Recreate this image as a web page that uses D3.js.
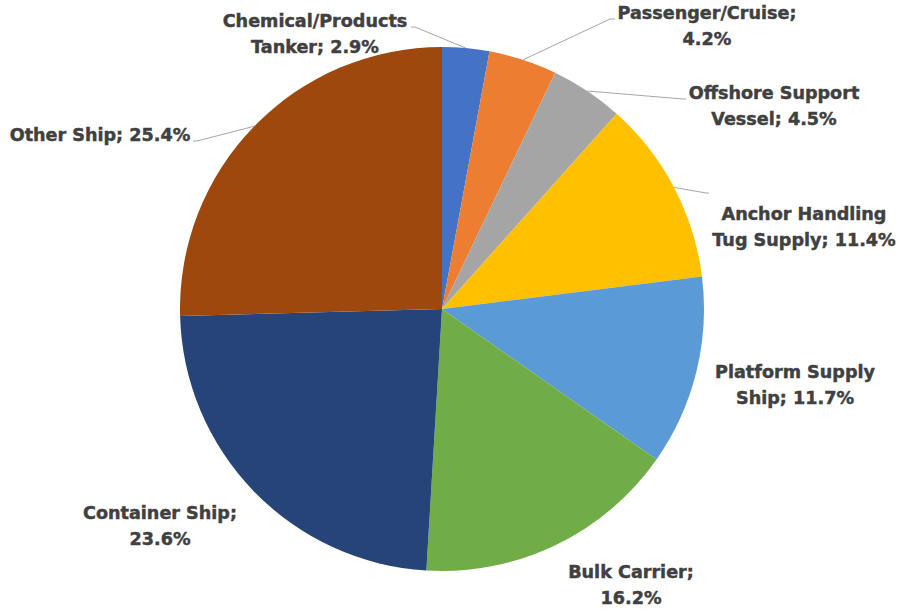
<!DOCTYPE html>
<html>
<head>
<meta charset="utf-8">
<script src="https://cdn.jsdelivr.net/npm/d3@7"></script>
<style>
  html, body { margin: 0; padding: 0; background: #fff; }
  svg { display: block; }
  .lbl { font-family: "DejaVu Sans", sans-serif; font-weight: bold; font-size: 17.6px; fill: #404040;
         stroke: #404040; stroke-width: 0.45px; }
</style>
</head>
<body>
<svg id="chart" width="900" height="610"></svg>
<script>
// Ship types and their share of the total (%)
const categories = [
  "Chemical/Products Tanker",
  "Passenger/Cruise",
  "Offshore Support Vessel",
  "Anchor Handling Tug Supply",
  "Platform Supply Ship",
  "Bulk Carrier",
  "Container Ship",
  "Other Ship"
];
const shares = [2.9, 4.2, 4.5, 11.4, 11.7, 16.2, 23.6, 25.4];
// Label text split into lines (the value line is appended below)
const labelLines = [
  ["Chemical/Products", "Tanker;"],
  ["Passenger/Cruise;", ""],
  ["Offshore Support", "Vessel;"],
  ["Anchor Handling", "Tug Supply;"],
  ["Platform Supply", "Ship;"],
  ["Bulk Carrier;", ""],
  ["Container Ship;", ""],
  ["Other Ship;"]
];

const colors = ["#4472C4", "#ED7D31", "#A5A5A5", "#FFC000", "#5B9BD5", "#70AD47", "#264478", "#9E480E"];

// Label placement: centre x, first baseline y, and optional leader bend/end points
const labelLayout = [
  { x: 315, y: 27,  leader: [[415, 27], [411, 27]] },
  { x: 707, y: 19,  leader: [[610, 19], [615, 19]] },
  { x: 774, y: 99,  leader: [[683, 99], [686, 99]] },
  { x: 804, y: 220, leader: [[706, 193], [709, 193]] },
  { x: 795, y: 378 },
  { x: 631, y: 578 },
  { x: 160, y: 519 },
  { x: 100, y: 141, leader: [[197, 141], [193, 141]] }
];

const cx = 442, cy = 309, R = 262;
const svg = d3.select("#chart");
const g = svg.append("g").attr("transform", `translate(${cx},${cy})`);

const pie = d3.pie().sort(null).value(d => d)(shares);
const arc = d3.arc().innerRadius(0).outerRadius(R);
const edge = d3.arc().innerRadius(R).outerRadius(R);

g.selectAll("path.slice")
  .data(pie)
  .join("path")
  .attr("class", "slice")
  .attr("d", arc)
  .attr("fill", (d, i) => colors[i]);

// Leader lines from the slice edge to its label
const line = d3.line();
pie.forEach((d, i) => {
  const L = labelLayout[i];
  if (!L.leader) return;
  const [ex, ey] = edge.centroid(d);
  const pts = [[ex + cx, ey + cy], ...L.leader];
  svg.append("path")
    .attr("d", line(pts))
    .attr("fill", "none")
    .attr("stroke", "#A6A6A6")
    .attr("stroke-width", 1);
});

// Labels
pie.forEach((d, i) => {
  const L = labelLayout[i];
  const lines = labelLines[i].slice();
  const pct = d3.format(".1f")(shares[i]) + "%";
  if (lines.length === 1) {
    lines[0] = lines[0] + " " + pct;
  } else {
    lines[1] = (lines[1] ? lines[1] + " " : "") + pct;
  }
  const t = svg.append("text")
    .attr("class", "lbl")
    .attr("text-anchor", "middle");
  lines.forEach((s, k) => {
    t.append("tspan").attr("x", L.x).attr("y", L.y + k * 25.5).text(s);
  });
});
</script>
</body>
</html>
